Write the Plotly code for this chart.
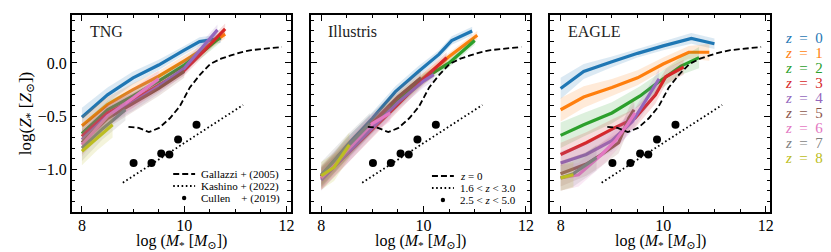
import plotly.graph_objects as go

# ---------------- data ----------------
redshifts = [0, 1, 2, 3, 4, 5, 6, 7, 8]
colors = ['#1f77b4', '#ff7f0e', '#2ca02c', '#d62728', '#9467bd',
          '#8c564b', '#e377c2', '#7f7f7f', '#bcbd22']
panel_names = ['TNG', 'Illustris', 'EAGLE']

# TNG: log M*, log Z*, band half-width
tng_m = [[8.0, 8.5, 9.0, 9.5, 10.0, 10.3, 10.72],
         [8.0, 8.5, 9.0, 9.5, 10.0, 10.4, 10.8],
         [8.0, 8.5, 9.0, 9.5, 10.0, 10.4, 10.7],
         [8.0, 8.5, 9.0, 9.5, 10.0, 10.4, 10.8],
         [8.0, 8.5, 9.0, 9.5, 10.0, 10.65],
         [8.0, 8.5, 9.0, 9.5, 10.0],
         [8.0, 8.5, 9.0, 9.5],
         [8.0, 8.4, 8.85],
         [8.0, 8.3, 8.6]]
tng_z = [[-0.51, -0.30, -0.14, -0.02, 0.12, 0.20, 0.23],
         [-0.59, -0.39, -0.25, -0.125, 0.02, 0.14, 0.27],
         [-0.665, -0.44, -0.31, -0.17, -0.02, 0.12, 0.24],
         [-0.69, -0.47, -0.35, -0.21, -0.07, 0.12, 0.32],
         [-0.72, -0.50, -0.37, -0.22, -0.05, 0.31],
         [-0.75, -0.52, -0.38, -0.24, -0.08],
         [-0.77, -0.50, -0.33, -0.15],
         [-0.80, -0.62, -0.44],
         [-0.83, -0.70, -0.58]]
tng_s = [[0.09, 0.07, 0.06, 0.05, 0.04, 0.04, 0.04],
         [0.09, 0.07, 0.06, 0.05, 0.05, 0.04, 0.04],
         [0.09, 0.08, 0.07, 0.06, 0.05, 0.05, 0.05],
         [0.10, 0.08, 0.07, 0.06, 0.05, 0.05, 0.05],
         [0.10, 0.09, 0.08, 0.07, 0.06, 0.05],
         [0.11, 0.09, 0.08, 0.07, 0.06],
         [0.11, 0.10, 0.09, 0.08],
         [0.12, 0.10, 0.10],
         [0.13, 0.12, 0.12]]

# Illustris
ill_m = [[8.0, 8.55, 9.0, 9.45, 9.9, 10.3, 10.55, 10.95],
         [8.0, 8.5, 9.0, 9.5, 10.0, 10.5, 11.05],
         [8.0, 8.5, 9.0, 9.5, 10.0, 10.5, 11.0],
         [8.0, 8.5, 9.0, 9.5, 10.0, 10.45],
         [8.0, 8.5, 9.0, 9.5, 10.0, 10.2],
         [8.0, 8.5, 9.0, 9.5, 9.95],
         [8.0, 8.5, 9.0, 9.35],
         [8.0, 8.5, 8.95],
         [8.0, 8.25, 8.55]]
ill_z = [[-1.06, -0.75, -0.52, -0.27, -0.08, 0.08, 0.21, 0.30],
         [-1.06, -0.82, -0.57, -0.34, -0.14, 0.06, 0.26],
         [-1.07, -0.83, -0.59, -0.36, -0.15, 0.00, 0.21],
         [-1.09, -0.86, -0.63, -0.39, -0.15, 0.05],
         [-1.10, -0.85, -0.61, -0.37, -0.17, -0.11],
         [-1.07, -0.80, -0.56, -0.32, -0.14],
         [-1.08, -0.82, -0.57, -0.47],
         [-1.05, -0.79, -0.57],
         [-1.06, -0.98, -0.77]]
ill_s = [[0.08, 0.07, 0.06, 0.05, 0.05, 0.04, 0.04, 0.04],
         [0.09, 0.08, 0.07, 0.06, 0.05, 0.04, 0.04],
         [0.09, 0.08, 0.07, 0.06, 0.05, 0.04, 0.04],
         [0.10, 0.09, 0.08, 0.07, 0.06, 0.05],
         [0.10, 0.09, 0.08, 0.07, 0.06, 0.06],
         [0.11, 0.10, 0.09, 0.08, 0.07],
         [0.11, 0.10, 0.09, 0.08],
         [0.12, 0.11, 0.10],
         [0.13, 0.13, 0.12]]

# EAGLE
eag_m = [[8.0, 8.45, 9.0, 9.5, 10.0, 10.55, 11.0],
         [8.0, 8.45, 9.0, 9.5, 10.0, 10.5, 10.9],
         [8.0, 8.45, 9.0, 9.55, 9.85, 10.35, 10.7],
         [8.0, 8.5, 9.05, 9.45, 9.85, 10.05, 10.4],
         [8.0, 8.5, 9.0, 9.4, 9.65, 9.92],
         [8.0, 8.5, 8.75, 9.13, 9.33, 9.43],
         [8.0, 8.35, 8.8, 9.07, 9.3, 9.45],
         [8.0, 8.25, 8.7],
         [8.0, 8.25]]
eag_z = [[-0.24, -0.08, 0.01, 0.09, 0.16, 0.23, 0.18],
         [-0.44, -0.32, -0.23, -0.14, -0.01, 0.10, 0.10],
         [-0.68, -0.58, -0.47, -0.31, -0.20, -0.03, 0.05],
         [-0.86, -0.75, -0.61, -0.52, -0.30, -0.13, -0.04],
         [-0.94, -0.86, -0.73, -0.55, -0.36, -0.15],
         [-1.04, -0.95, -0.875, -0.75, -0.52, -0.44],
         [-1.08, -1.05, -0.86, -0.73, -0.58, -0.47],
         [-1.08, -1.04, -0.89],
         [-1.08, -1.05]]
eag_s = [[0.10, 0.07, 0.05, 0.04, 0.04, 0.05, 0.05],
         [0.11, 0.10, 0.08, 0.07, 0.06, 0.06, 0.08],
         [0.12, 0.11, 0.10, 0.09, 0.08, 0.08, 0.10],
         [0.11, 0.10, 0.09, 0.09, 0.08, 0.07, 0.07],
         [0.11, 0.10, 0.10, 0.09, 0.09, 0.09],
         [0.12, 0.11, 0.11, 0.10, 0.10, 0.10],
         [0.12, 0.11, 0.11, 0.10, 0.10, 0.10],
         [0.12, 0.12, 0.12],
         [0.12, 0.12]]

# Observations
gallazzi_m = [8.91, 9.11, 9.31, 9.51, 9.72, 9.91, 10.11, 10.31, 10.51,
              10.72, 10.91, 11.11, 11.31, 11.51, 11.72, 11.91]
gallazzi_z = [-0.60, -0.61, -0.65, -0.61, -0.52, -0.41, -0.23, -0.11, -0.01,
              0.04, 0.07, 0.10, 0.12, 0.13, 0.14, 0.15]
kashino_m = [8.8, 11.15]
kashino_z = [-1.125, -0.395]
cullen_m = [9.01, 9.36, 9.55, 9.71, 9.88, 10.24]
cullen_z = [-0.94, -0.94, -0.85, -0.86, -0.72, -0.58]

legend_labels_1 = ['Gallazzi + (2005)', 'Kashino + (2022)', 'Cullen\u2003+ (2019)']
legend_labels_2 = ['<i>z</i> = 0', '1.6 &lt; <i>z</i> &lt; 3.0', '2.5 &lt; <i>z</i> &lt; 5.0']

# ---------------- figure ----------------
FONT = 'Liberation Serif, DejaVu Serif, serif'
W, H = 831, 252
fig = go.Figure()

DASH = '6px,3px'
DOT = '1.6px,2.6px'


def rgba(hexc, a):
    h = hexc.lstrip('#')
    r, g, b = int(h[0:2], 16), int(h[2:4], 16), int(h[4:6], 16)
    return f'rgba({r},{g},{b},{a})'


panels = [(tng_m, tng_z, tng_s), (ill_m, ill_z, ill_s), (eag_m, eag_z, eag_s)]
for p, (ms, zs, ss) in enumerate(panels):
    xa = 'x' if p == 0 else f'x{p+1}'
    ya = 'y' if p == 0 else f'y{p+1}'
    for i in range(len(redshifts)):
        m, z, s = ms[i], zs[i], ss[i]
        up = [a + b for a, b in zip(z, s)]
        lo = [a - b for a, b in zip(z, s)]
        fig.add_trace(go.Scatter(x=m + m[::-1], y=up + lo[::-1], fill='toself',
                                 fillcolor=rgba(colors[i], 0.16), line=dict(width=0),
                                 mode='lines', hoverinfo='skip', showlegend=False,
                                 xaxis=xa, yaxis=ya))
        fig.add_trace(go.Scatter(x=m, y=z, mode='lines',
                                 line=dict(color=colors[i], width=3.2),
                                 name=f'z = {redshifts[i]}',
                                 showlegend=False, xaxis=xa, yaxis=ya))
    fig.add_trace(go.Scatter(x=gallazzi_m, y=gallazzi_z, mode='lines',
                             line=dict(color='black', width=1.8, dash=DASH),
                             showlegend=False, xaxis=xa, yaxis=ya))
    fig.add_trace(go.Scatter(x=kashino_m, y=kashino_z, mode='lines',
                             line=dict(color='black', width=1.8, dash=DOT),
                             showlegend=False, xaxis=xa, yaxis=ya))
    fig.add_trace(go.Scatter(x=cullen_m, y=cullen_z, mode='markers',
                             marker=dict(color='black', size=8),
                             showlegend=False, xaxis=xa, yaxis=ya))

x_domains = [[64 / W, 284 / W], [304.5 / W, 524.5 / W], [545 / W, 765.5 / W]]
y_domain = [1 - 204 / H, 1 - 7 / H]

xtitle = 'log (<i>M</i><sub>*</sub> [<i>M</i><sub>⊙</sub>])'
ytitle = 'log(<i>Z</i><sub>*</sub> [<i>Z</i><sub>⊙</sub>])'

axis_common = dict(showline=True, linecolor='black', linewidth=1.5, mirror='allticks',
                   ticks='inside', ticklen=6, tickwidth=1.2, tickcolor='black',
                   showgrid=False, zeroline=False,
                   tickfont=dict(family=FONT, size=16, color='black'))

layout = dict(width=W, height=H, margin=dict(l=0, r=0, t=0, b=0),
              paper_bgcolor='white', plot_bgcolor='white', showlegend=False,
              font=dict(family=FONT, color='black'))
for p in range(3):
    xk = 'xaxis' if p == 0 else f'xaxis{p+1}'
    yk = 'yaxis' if p == 0 else f'yaxis{p+1}'
    layout[xk] = dict(axis_common, domain=x_domains[p], range=[7.8, 12.08],
                      tickvals=[8, 10, 12], ticktext=['8', '10', '12'],
                      ticklabelstandoff=-2,
                      minor=dict(ticks='inside', dtick=0.5, ticklen=3.5, tickwidth=1.0,
                                 tickcolor='black', showgrid=False),
                      anchor='y' if p == 0 else f'y{p+1}')
    layout[yk] = dict(axis_common, domain=y_domain, range=[-1.4, 0.45],
                      tickvals=[-1.0, -0.5, 0.0], ticktext=['−1.0', '−0.5', '0.0'],
                      showticklabels=(p == 0),
                      minor=dict(ticks='inside', dtick=0.1, tick0=0, ticklen=3.5, tickwidth=1.0,
                                 tickcolor='black', showgrid=False),
                      anchor='x' if p == 0 else f'x{p+1}')
layout['yaxis']['title'] = dict(text=ytitle, font=dict(family=FONT, size=17), standoff=2)

annotations = []
shapes = []
# panel titles and x-axis titles
title_x = [80, 320, 561]
for p in range(3):
    annotations.append(dict(text=panel_names[p], x=title_x[p] / W, y=1 - 23 / H,
                            xref='paper', yref='paper', xanchor='left', yanchor='middle',
                            showarrow=False, font=dict(family=FONT, size=16, color='#222')))
    annotations.append(dict(text=xtitle, x=sum(x_domains[p]) / 2, y=1 - 233 / H,
                            xref='paper', yref='paper', xanchor='center', yanchor='middle',
                            showarrow=False, font=dict(family=FONT, size=16, color='black')))

# observation legends (panels 1 and 2), key glyphs + labels
leg_specs = [(166, [166, 178, 190], legend_labels_1),
             (426, [168, 180, 192], legend_labels_2)]
for x0, rows, labels in leg_specs:
    x1 = x0 + 22
    for k, (ry, lab) in enumerate(zip(rows, labels)):
        yy = 1 - ry / H
        if k == 0:
            shapes.append(dict(type='line', xref='paper', yref='paper', x0=x0 / W, x1=x1 / W,
                               y0=yy, y1=yy, line=dict(color='black', width=1.8, dash=DASH)))
        elif k == 1:
            shapes.append(dict(type='line', xref='paper', yref='paper', x0=x0 / W, x1=x1 / W,
                               y0=yy, y1=yy, line=dict(color='black', width=1.8, dash=DOT)))
        else:
            cx, r = (x0 + x1) / 2, 2.2
            shapes.append(dict(type='circle', xref='paper', yref='paper',
                               x0=(cx - r) / W, x1=(cx + r) / W, y0=yy - r / H, y1=yy + r / H,
                               fillcolor='black', line=dict(width=0)))
        annotations.append(dict(text=lab, x=(x1 + 4) / W, y=yy, xref='paper', yref='paper',
                                xanchor='left', yanchor='middle', showarrow=False,
                                font=dict(family=FONT, size=11, color='black')))

# redshift legend
for i, zz in enumerate(redshifts):
    annotations.append(dict(text=f'<i>z</i>\u2002=\u2002{zz}', x=779 / W,
                            y=1 - (29.5 + 15 * i) / H, xref='paper', yref='paper',
                            xanchor='left', yanchor='middle', showarrow=False,
                            font=dict(family=FONT, size=15, color=colors[i])))
layout['annotations'] = annotations
layout['shapes'] = shapes

fig.update_layout(**layout)
fig.write_html('out.html')
